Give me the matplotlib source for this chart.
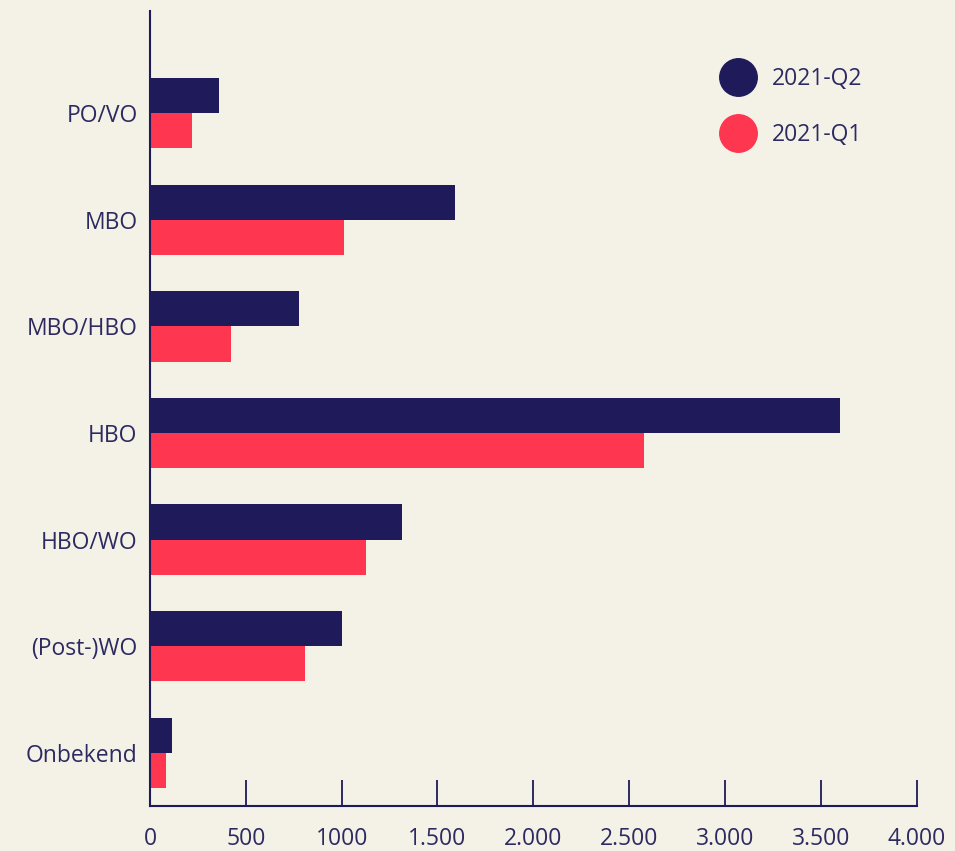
import matplotlib
matplotlib.use("Agg")
import matplotlib.pyplot as plt
from matplotlib.lines import Line2D
import numpy as np

categories = ["PO/VO", "MBO", "MBO/HBO", "HBO", "HBO/WO", "(Post-)WO", "Onbekend"]
q2_values = [360, 1591, 777, 3600, 1315, 1002, 115]
q1_values = [219, 1012, 423, 2578, 1127, 809, 82]
series_names = ["2021-Q2", "2021-Q1"]
xticks = [0, 500, 1000, 1500, 2000, 2500, 3000, 3500, 4000]
xtick_labels = ["0", "500", "1000", "1.500", "2.000", "2.500", "3.000", "3.500", "4.000"]

NAVY = "#1f1a5a"
RED = "#ff364f"
BG = "#f4f1e7"
TXT = "#2d2a62"
FAM = ['Open Sans', 'DejaVu Sans']

plt.rcParams['font.family'] = FAM

fig = plt.figure(figsize=(9.55, 8.51), dpi=100, facecolor=BG)
ax = fig.add_axes([150/955, 1-806/851, (916.6-150)/955, (806-11)/851])
ax.set_facecolor(BG)

n = len(categories)
y = np.arange(n)[::-1]
h = 0.33
ax.barh(y + h/2, q2_values, height=h, color=NAVY, label=series_names[0])
ax.barh(y - h/2, q1_values, height=h, color=RED, label=series_names[1])

ax.set_xlim(0, 4000)
ax.set_ylim(-0.5, 6.96)
ax.set_yticks(y)
ax.set_yticklabels(categories, fontsize=16.5, color=TXT)
ax.set_xticks(xticks)
ax.set_xticklabels(xtick_labels, fontsize=16.5, color=TXT)
ax.tick_params(axis='y', length=0, pad=9)
ax.tick_params(axis='x', direction='in', length=19, width=1.3, color=NAVY, pad=15)

for s in ['top', 'right']:
    ax.spines[s].set_visible(False)
for s in ['left', 'bottom']:
    ax.spines[s].set_color(NAVY)
    ax.spines[s].set_linewidth(1.5)

handles = [Line2D([], [], marker='o', linestyle='', markersize=27, color=NAVY),
           Line2D([], [], marker='o', linestyle='', markersize=27, color=RED)]
leg = ax.legend(handles, series_names, loc='upper left', bbox_to_anchor=(0.71, 0.955),
                frameon=False, labelspacing=1.4, handletextpad=0.5,
                labelcolor=TXT, prop={'family': FAM, 'size': 16.5})

fig.savefig("out.png", dpi=100, facecolor=BG)
